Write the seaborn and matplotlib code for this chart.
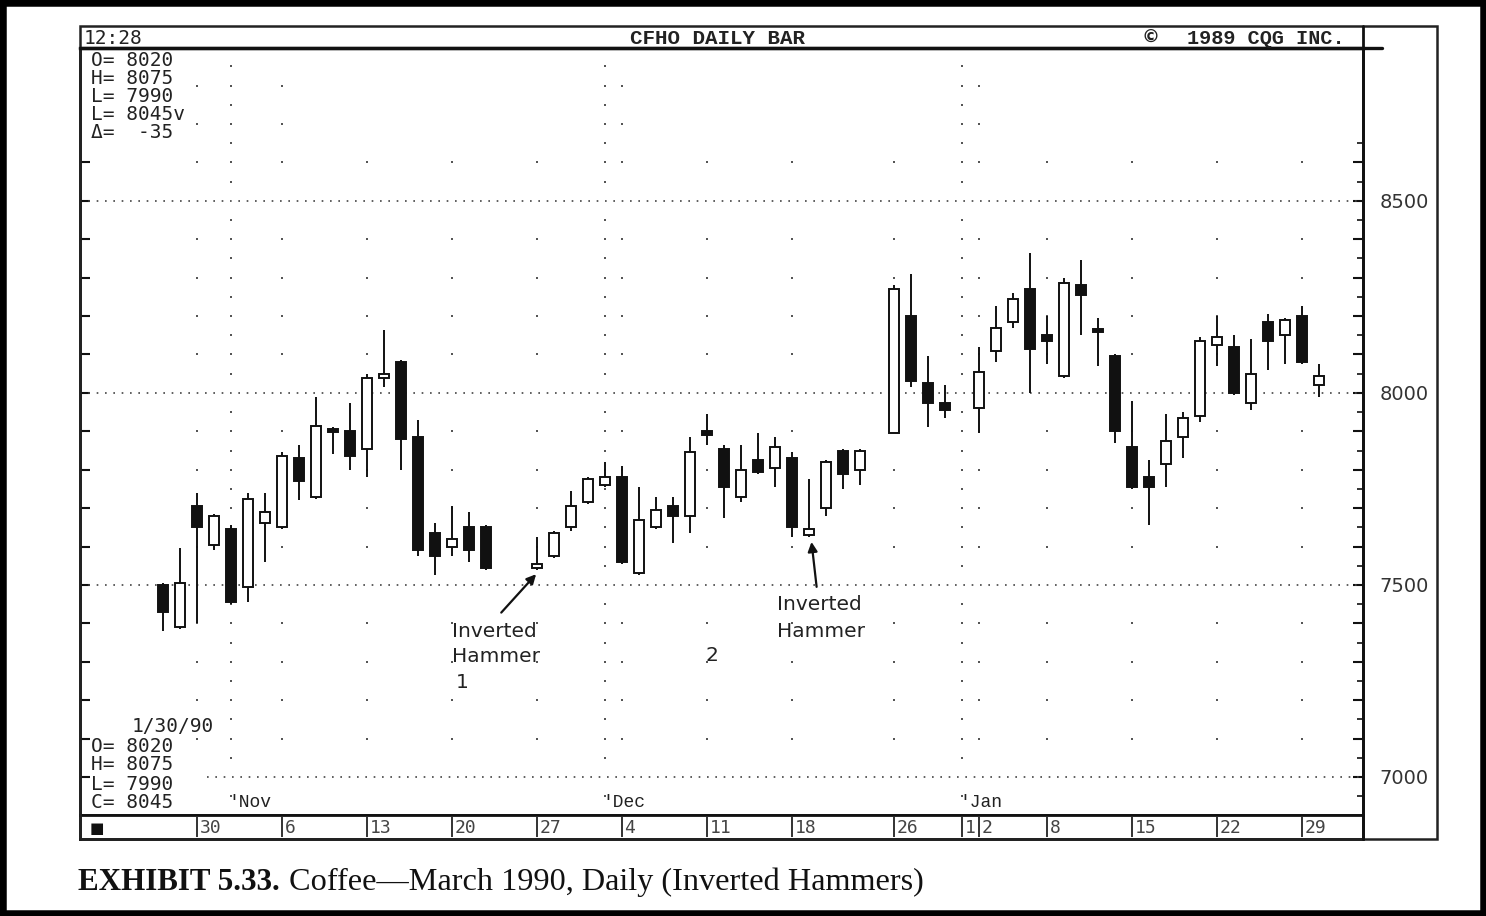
import numpy as np
import pandas as pd
import matplotlib
matplotlib.use("Agg")
import matplotlib.pyplot as plt
from matplotlib.lines import Line2D
from matplotlib.patches import Rectangle
from matplotlib.ticker import FixedLocator, FuncFormatter
import seaborn as sns

# ---- daily coffee (March 1990) prices -------------------------------------
trade_dates = [
    "1989-10-26", "1989-10-27", "1989-10-30", "1989-10-31",
    "1989-11-01", "1989-11-02", "1989-11-03", "1989-11-06", "1989-11-07",
    "1989-11-08", "1989-11-09", "1989-11-10", "1989-11-13", "1989-11-14",
    "1989-11-15", "1989-11-16", "1989-11-17", "1989-11-20", "1989-11-21",
    "1989-11-22", "1989-11-27", "1989-11-28", "1989-11-29", "1989-11-30",
    "1989-12-01", "1989-12-04", "1989-12-05", "1989-12-06", "1989-12-07",
    "1989-12-08", "1989-12-11", "1989-12-12", "1989-12-13", "1989-12-14",
    "1989-12-15", "1989-12-18", "1989-12-19", "1989-12-20", "1989-12-21",
    "1989-12-22", "1989-12-26", "1989-12-27", "1989-12-28", "1989-12-29",
    "1990-01-02", "1990-01-03", "1990-01-04", "1990-01-05", "1990-01-08",
    "1990-01-09", "1990-01-10", "1990-01-11", "1990-01-12", "1990-01-15",
    "1990-01-16", "1990-01-17", "1990-01-18", "1990-01-19", "1990-01-22",
    "1990-01-23", "1990-01-24", "1990-01-25", "1990-01-26", "1990-01-29",
    "1990-01-30",
]
opens = [7500, 7390, 7705, 7605,
         7645, 7495, 7660, 7650, 7830, 7730, 7905, 7900, 7855, 8040, 8080,
         7885, 7635, 7600, 7650, 7650, 7545, 7575, 7650, 7715,
         7760, 7780, 7530, 7650, 7705, 7680, 7900, 7855, 7730, 7825, 7805,
         7830, 7630, 7700, 7850, 7800, 7895, 8200, 8025, 7975,
         7960, 8110, 8185, 8270, 8150, 8045, 8280, 8165, 8095, 7860, 7780,
         7815, 7885, 7940, 8125, 8120, 7975, 8185, 8150, 8200, 8020]
highs = [7505, 7595, 7740, 7685,
         7655, 7740, 7740, 7845, 7865, 7990, 7910, 7975, 8050, 8165, 8085,
         7930, 7660, 7705, 7690, 7655, 7625, 7640, 7745, 7780,
         7820, 7810, 7755, 7730, 7730, 7885, 7945, 7865, 7865, 7895, 7885,
         7845, 7775, 7825, 7855, 7855, 8280, 8310, 8095, 8020,
         8120, 8225, 8260, 8365, 8200, 8300, 8345, 8195, 8100, 7980, 7825,
         7945, 7950, 8145, 8200, 8150, 8140, 8205, 8195, 8225, 8075]
lows = [7380, 7385, 7400, 7590,
        7450, 7455, 7560, 7645, 7720, 7725, 7840, 7800, 7780, 8015, 7800,
        7575, 7525, 7575, 7560, 7540, 7540, 7570, 7640, 7710,
        7755, 7555, 7525, 7645, 7610, 7635, 7865, 7675, 7715, 7790, 7755,
        7625, 7625, 7680, 7750, 7760, 7895, 8015, 7910, 7935,
        7895, 8080, 8170, 8000, 8075, 8040, 8150, 8070, 7870, 7750, 7655,
        7755, 7830, 7925, 8070, 7995, 7955, 8060, 8075, 8075, 7990]
closes = [7430, 7505, 7650, 7680,
          7455, 7725, 7690, 7835, 7770, 7915, 7900, 7835, 8040, 8050, 7880,
          7590, 7575, 7620, 7590, 7545, 7555, 7635, 7705, 7775,
          7780, 7560, 7670, 7695, 7680, 7845, 7890, 7755, 7800, 7795, 7860,
          7650, 7645, 7820, 7790, 7850, 8270, 8030, 7975, 7955,
          8055, 8170, 8245, 8115, 8135, 8285, 8255, 8160, 7900, 7755, 7755,
          7875, 7935, 8135, 8145, 8000, 8050, 8135, 8190, 8080, 8045]

week_tick_dates = ["1989-10-30", "1989-11-06", "1989-11-13", "1989-11-20",
                   "1989-11-27", "1989-12-04", "1989-12-11", "1989-12-18",
                   "1989-12-26", "1990-01-01", "1990-01-02", "1990-01-08",
                   "1990-01-15", "1990-01-22", "1990-01-29"]
week_tick_labels = ["30", "6", "13", "20", "27", "4", "11", "18",
                    "26", "1", "2", "8", "15", "22", "29"]
month_dates = ["1989-11-01", "1989-12-01", "1990-01-01"]
month_labels = ["'Nov", "'Dec", "'Jan"]
price_labels = [7000, 7500, 8000, 8500]

top_info = ["O= 8020", "H= 8075", "L= 7990", "L= 8045v", "\u0394=  -35"]
bottom_date = "1/30/90"
bottom_info = ["O= 8020", "H= 8075", "L= 7990", "C= 8045"]

# ---- helpers --------------------------------------------------------------
FIRST_DAY = np.datetime64("1989-10-26")


def day_pos(dates):
    """Weekday offset from the first session (holidays keep their slot)."""
    return np.busday_count(FIRST_DAY, np.array(dates, dtype="datetime64[D]"))


W, H = 1486, 916


def fx(px):
    return px / W


def fy(py):
    return 1 - py / H


INK = "#111111"
GREY = "#555555"

sns.set_theme(style="white", rc={"axes.facecolor": "white",
                                 "figure.facecolor": "white"})
plt.rcParams["font.family"] = ["DejaVu Sans"]

fig = plt.figure(figsize=(W / 100, H / 100), dpi=100)

XLIM = (-4.88, 70.59)
YLIM = (6901, 8898)

ax = fig.add_axes([fx(80), fy(815), (1363 - 80) / W, (815 - 48) / H])
ax.set_xlim(*XLIM)
ax.set_ylim(*YLIM)

# ---- dotted grid ----------------------------------------------------------
for p in price_labels:
    start = 0.099 if p == 7000 else 0.0
    ax.axhline(p, xmin=start, xmax=1, color="#444444", lw=1.2,
               ls=(0, (1, 4)), zorder=1)

tall_cols = {"1989-10-30", "1989-11-06", "1989-12-04", "1990-01-02"}
rows = []
for wx, d in zip(day_pos(week_tick_dates), week_tick_dates):
    top = 8800 if d in tall_cols else 8600
    for lv in range(7100, top + 1, 100):
        if lv % 500:
            rows.append((wx, lv))
for mx in day_pos(month_dates):
    for lv in range(6950, 8851, 50):
        if lv % 500:
            rows.append((mx, lv))
dots = pd.DataFrame(rows, columns=["day", "price"])
sns.scatterplot(data=dots, x="day", y="price", marker="s", s=4,
                color=GREY, linewidth=0, ax=ax, zorder=1, legend=False)

# ---- candlesticks ---------------------------------------------------------
x = day_pos(trade_dates)
o = np.array(opens, float)
h = np.array(highs, float)
l = np.array(lows, float)
c = np.array(closes, float)
up = c >= o

ax.vlines(x, l, h, color=INK, lw=1.4, zorder=3)
body = np.maximum(np.abs(c - o), 6.0)
mid = (o + c) / 2
ax.bar(x, body, bottom=mid - body / 2, width=0.62,
       color=np.where(up, "white", INK), edgecolor=INK, linewidth=1.4,
       zorder=4)

# ---- annotations ----------------------------------------------------------
ann_font = dict(fontsize=14.5, color="#222222", family="DejaVu Sans",
                ha="left", va="center")
for txt, yv in zip(["Inverted", "Hammer", "1"], [7380, 7313, 7247]):
    ax.text(17.0 if txt != "1" else 17.2, yv, txt, **ann_font)
for txt, yv in zip(["Inverted", "Hammer"], [7448, 7380]):
    ax.text(36.1, yv, txt, **ann_font)
ax.text(31.9, 7315, "2", **ann_font)

arrow = dict(arrowstyle="-|>", color=INK, lw=1.6, mutation_scale=14,
             shrinkA=0, shrinkB=0)
ax.annotate("", xy=(21.95, 7528), xytext=(19.9, 7428), arrowprops=arrow,
            zorder=5)
ax.annotate("", xy=(38.15, 7612), xytext=(38.45, 7495), arrowprops=arrow,
            zorder=5)

# month markers
for d, lab in zip(month_dates, month_labels):
    ax.text(day_pos([d])[0] - 0.15, 6933, lab, fontsize=13,
            family="Liberation Mono", color="#222222", ha="left",
            va="center")

# info blocks
mono = dict(family="DejaVu Sans Mono", fontsize=14, color="#222222",
            ha="left", va="center", transform=fig.transFigure)
for i, line in enumerate(top_info):
    fig.text(fx(91), fy(60 + 18 * i), line, **mono)
fig.text(fx(132), fy(726), bottom_date, **mono)
for i, line in enumerate(bottom_info):
    fig.text(fx(91), fy(746 + 19 * i), line, **mono)

# ---- axes styling ---------------------------------------------------------
ax.set_xticks([])
ax.set_xlabel("")
ax.set_ylabel("")
ax.yaxis.set_major_locator(FixedLocator(list(range(6900, 8601, 100))))
ax.yaxis.set_minor_locator(FixedLocator(list(range(6950, 8651, 100))))
ax.yaxis.set_major_formatter(
    FuncFormatter(lambda v, _: f"{int(v)}" if int(v) % 500 == 0 else ""))
ax.tick_params(axis="y", which="major", direction="in", length=7, width=1.5,
               color=INK, left=True, right=True, labelleft=False,
               labelright=True, pad=12, labelsize=14, labelcolor="#333333")
ax.tick_params(axis="y", which="minor", direction="in", length=4, width=1.2,
               color=INK, left=False, right=True)
for side in ["left", "right", "top", "bottom"]:
    ax.spines[side].set_visible(True)
    ax.spines[side].set_color(INK)
    ax.spines[side].set_linewidth(2.0)
ax.spines["top"].set_linewidth(2.4)

# ---- date strip -----------------------------------------------------------
sax = fig.add_axes([fx(80), fy(839), (1363 - 80) / W, (839 - 815) / H])
sax.set_xlim(*XLIM)
sax.set_ylim(0, 1)
sax.set_xticks([])
sax.set_yticks([])
for side in sax.spines.values():
    side.set_color(INK)
    side.set_linewidth(2.0)
wx = day_pos(week_tick_dates)
sax.vlines(wx, 0.08, 0.92, color="#333333", lw=1.4)
for xv, lab in zip(wx, week_tick_labels):
    sax.text(xv + 0.15, 0.45, lab, family="DejaVu Sans Mono", fontsize=13,
             color="#444444", ha="left", va="center")
sax.text((97 - 80) / (1363 - 80), 0.45, "\u25A0", transform=sax.transAxes,
         fontsize=11, color=INK, ha="center", va="center")

# ---- chart frame and header ----------------------------------------------
fig.add_artist(Rectangle((fx(80), fy(839)), (1437 - 80) / W, (839 - 26) / H,
                         transform=fig.transFigure, fill=False,
                         edgecolor="#222222", lw=1.8))
fig.add_artist(Line2D([fx(80), fx(1382)], [fy(47.5), fy(47.5)],
                      transform=fig.transFigure, color=INK, lw=2.4))
fig.add_artist(Line2D([fx(1363), fx(1363)], [fy(26), fy(839)],
                      transform=fig.transFigure, color=INK, lw=2.0))
fig.text(fx(84), fy(38), "12:28", family="DejaVu Sans Mono", fontsize=14,
         color="#222222", ha="left", va="center")
fig.text(fx(718), fy(38), "CFHO DAILY BAR", family="Liberation Mono",
         fontsize=15, weight="bold", color="#222222", ha="center",
         va="center")
fig.text(fx(1150), fy(38), "\u00A9", family="DejaVu Sans", fontsize=13,
         weight="bold", color="#222222", ha="center", va="center")
fig.text(fx(1187), fy(38), "1989 CQG INC.", family="Liberation Mono",
         fontsize=14.5, weight="bold", color="#222222", ha="left",
         va="center")

# caption
fig.text(fx(78), fy(882), "EXHIBIT 5.33.", family="Liberation Serif",
         fontsize=22.3, weight="bold", color="#111111", ha="left",
         va="center")
fig.text(fx(289), fy(882), "Coffee\u2014March 1990, Daily (Inverted Hammers)",
         family="Liberation Serif", fontsize=23.2, color="#111111",
         ha="left", va="center")

# outer border
fig.add_artist(Rectangle((0, 0), 1, 1, transform=fig.transFigure, fill=False,
                         edgecolor="black", lw=9))

fig.savefig("out.png", dpi=100)
